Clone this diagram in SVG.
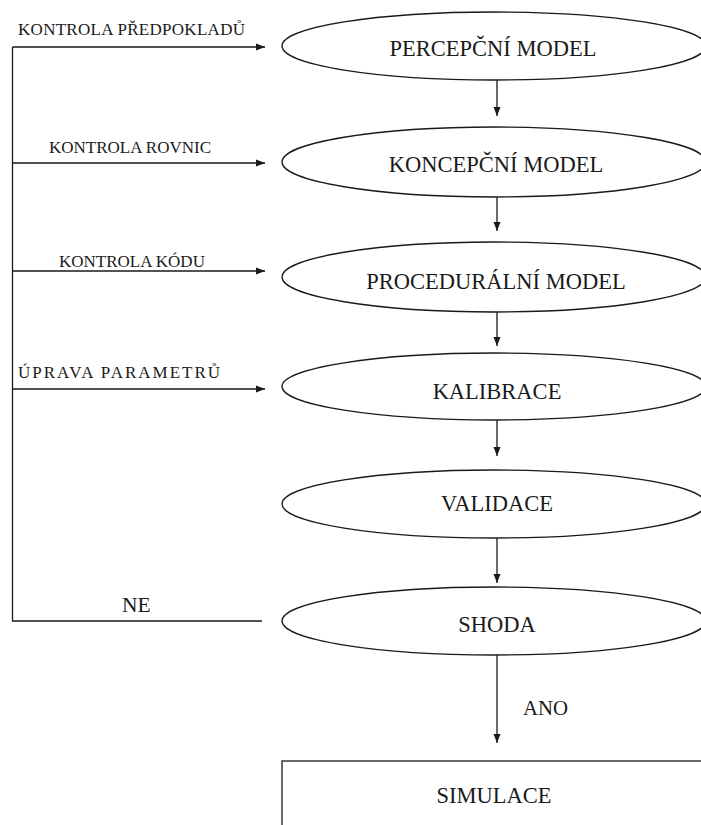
<svg xmlns="http://www.w3.org/2000/svg" width="701" height="825" viewBox="0 0 701 825">
<style>
  .node { fill: #ffffff; stroke: #1a1a1a; stroke-width: 1.3; }
  .lbl { font-family: "Liberation Serif", "Times New Roman", serif; fill: #1a1a1a; }
  .ntxt { font-size: 22.5px; text-anchor: middle; }
  .etxt { font-size: 17px; }
  .conn { fill: none; stroke: #1a1a1a; stroke-width: 1.3; }
</style>
<defs>
  <marker id="ah" markerWidth="9" markerHeight="8" refX="9" refY="4" orient="auto" markerUnits="userSpaceOnUse">
    <path d="M0,0.5 L9,4 L0,7.5 Z" fill="#1a1a1a"/>
  </marker>
</defs>
<rect width="701" height="825" fill="#ffffff"/>

<g id="connectors">
  <polyline class="conn" points="262,621 12.5,621 12.5,47"/>
  <line class="conn" x1="12.5" y1="47" x2="265" y2="47" marker-end="url(#ah)"/>
  <line class="conn" x1="12.5" y1="163" x2="265" y2="163" marker-end="url(#ah)"/>
  <line class="conn" x1="12.5" y1="271" x2="265" y2="271" marker-end="url(#ah)"/>
  <line class="conn" x1="12.5" y1="389" x2="265" y2="389" marker-end="url(#ah)"/>
  <line class="conn" x1="497" y1="80" x2="497" y2="116" marker-end="url(#ah)"/>
  <line class="conn" x1="497" y1="197" x2="497" y2="231" marker-end="url(#ah)"/>
  <line class="conn" x1="497" y1="312" x2="497" y2="346" marker-end="url(#ah)"/>
  <line class="conn" x1="497" y1="420" x2="497" y2="456" marker-end="url(#ah)"/>
  <line class="conn" x1="497" y1="538" x2="497" y2="583" marker-end="url(#ah)"/>
  <line class="conn" x1="497" y1="655" x2="497" y2="743" marker-end="url(#ah)"/>
  <text class="lbl etxt" x="18" y="35" textLength="227">KONTROLA PŘEDPOKLADŮ</text>
  <text class="lbl etxt" x="49" y="153">KONTROLA ROVNIC</text>
  <text class="lbl etxt" x="59" y="267">KONTROLA KÓDU</text>
  <text class="lbl etxt" x="18" y="378" textLength="202">ÚPRAVA PARAMETRŮ</text>
  <text class="lbl" x="122" y="612" font-size="21.5px">NE</text>
  <text class="lbl" x="523" y="715" font-size="20.8px">ANO</text>
</g>

<g id="n-percepcni">
  <ellipse class="node" cx="494" cy="46" rx="212" ry="34"/>
  <text class="lbl ntxt" x="493" y="56">PERCEPČNÍ MODEL</text>
</g>
<g id="n-koncepcni">
  <ellipse class="node" cx="494" cy="162" rx="212" ry="35"/>
  <text class="lbl ntxt" x="496" y="172">KONCEPČNÍ MODEL</text>
</g>
<g id="n-proceduralni">
  <ellipse class="node" cx="494" cy="277" rx="212" ry="35"/>
  <text class="lbl ntxt" x="496" y="289">PROCEDURÁLNÍ MODEL</text>
</g>
<g id="n-kalibrace">
  <ellipse class="node" cx="494" cy="386.5" rx="212" ry="33.5"/>
  <text class="lbl ntxt" x="497" y="399">KALIBRACE</text>
</g>
<g id="n-validace">
  <ellipse class="node" cx="494" cy="504" rx="212" ry="34"/>
  <text class="lbl ntxt" x="497" y="511">VALIDACE</text>
</g>
<g id="n-shoda">
  <ellipse class="node" cx="494" cy="621" rx="212" ry="34"/>
  <text class="lbl ntxt" x="497" y="632">SHODA</text>
</g>
<g id="n-simulace">
  <rect class="node" x="282" y="761" width="440" height="80"/>
  <text class="lbl ntxt" x="494" y="803">SIMULACE</text>
</g>
</svg>
